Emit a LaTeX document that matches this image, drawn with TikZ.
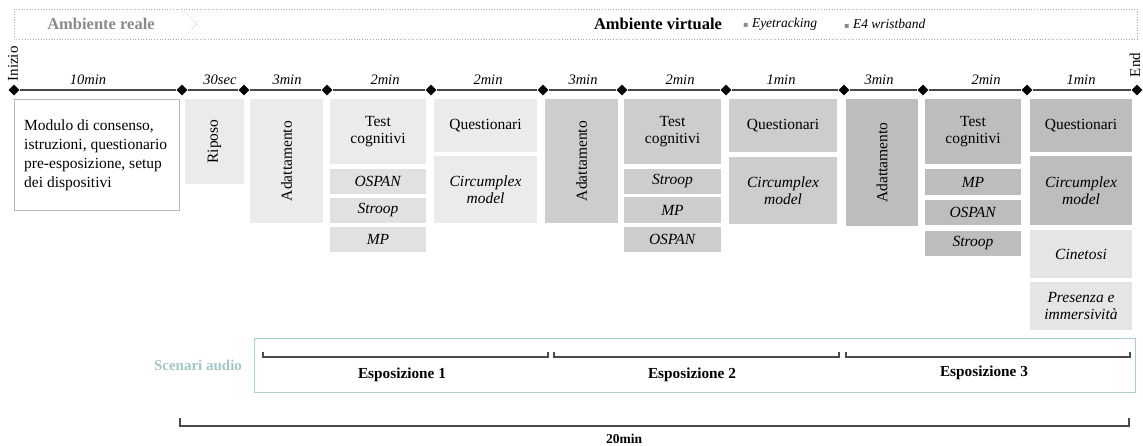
\documentclass[tikz,border=0pt]{standalone}
\usepackage{fontspec}
\usepackage{graphicx}
\setmainfont{Liberation Serif}
\newfontfamily\dejavu{DejaVu Sans}
\usetikzlibrary{shapes.geometric}
\definecolor{sA}{HTML}{EBEBEB}
\definecolor{sAsub}{HTML}{E1E1E1}
\definecolor{sB}{HTML}{CDCDCD}
\definecolor{sC}{HTML}{BDBDBD}
\definecolor{sX}{HTML}{E5E5E5}
\definecolor{audioc}{HTML}{A9CFD0}
\definecolor{audiotxt}{HTML}{A3C6C6}
\definecolor{hdrgray}{HTML}{8A8A8A}
\definecolor{hdrline}{HTML}{B0B0B0}
\definecolor{tline}{HTML}{4A4A4A}
\newcommand\mybox[7]{%
  \node[boxst, fill=#6, minimum width={#4pt-#2pt}, minimum height={#5pt-#3pt}]
    (#1) at ({(#2+#4)/2},{(#3+#5)/2}) {#7};}
\tikzset{
  boxst/.style={rectangle, inner sep=0pt, align=center, font=\fontsize{15.5}{17}\selectfont},
  dur/.style={font=\fontsize{14.5}{16}\selectfont\itshape, inner sep=0pt},
  dia/.style={diamond, fill=black, inner sep=0pt, minimum width=11pt, minimum height=11pt},
  brk/.style={draw=tline, line width=1.3pt},
  hdr/.style={draw=hdrline, dotted, line width=0.7pt},
  expo/.style={font=\fontsize{15.3}{17}\selectfont\bfseries, inner sep=0pt},
}
\begin{document}
\begin{tikzpicture}[x=1pt,y=-1pt]
\useasboundingbox (0,0) rectangle (1143,446);
% header band
\draw[hdr] (14,9) rectangle (1137,39);
\coordinate (chT) at (182,9);
\coordinate (chP) at (197,24);
\coordinate (chB) at (182,39);
\draw[hdr] (chT) -- (chP) -- (chB);
\node[font=\fontsize{16.5}{18}\selectfont\bfseries, text=hdrgray, inner sep=0pt] (amr) at (101,24) {Ambiente reale};
\node[font=\fontsize{16.5}{18}\selectfont\bfseries, inner sep=0pt] (amv) at (658,24) {Ambiente virtuale};
\node[font=\fontsize{13.5}{15}\selectfont\itshape, anchor=west, inner sep=0pt] (eye) at (743,24) {{\dejavu\fontsize{8}{9}\selectfont\textcolor{hdrgray}{▪}} Eyetracking};
\node[font=\fontsize{13.5}{15}\selectfont\itshape, anchor=west, inner sep=0pt] (e4) at (844,24) {{\dejavu\fontsize{8}{9}\selectfont\textcolor{hdrgray}{▪}} E4 wristband};
% timeline
\foreach \i/\x in {0/14,1/182,2/244,3/327,4/431,5/543,6/622,7/726,8/844,9/923,10/1027,11/1137}
  \node[dia] (d\i) at (\x,90) {};
\foreach \a/\b in {0/1,1/2,2/3,3/4,4/5,5/6,6/7,7/8,8/9,9/10,10/11}
  \draw[tline, line width=1.6pt] (d\a) -- (d\b);
\node[rotate=90, font=\fontsize{15}{16}\selectfont, inner sep=0pt] (ini) at (13,64) {Inizio};
\node[rotate=90, font=\fontsize{15}{16}\selectfont, inner sep=0pt] (end) at (1135,65) {End};
\node[dur] (t1) at (88,80) {10min};
\node[dur] (t2) at (220,80) {30sec};
\node[dur] (t3) at (287,80) {3min};
\node[dur] (t4) at (385,80) {2min};
\node[dur] (t5) at (488,80) {2min};
\node[dur] (t6) at (583,80) {3min};
\node[dur] (t7) at (680,80) {2min};
\node[dur] (t8) at (781,80) {1min};
\node[dur] (t9) at (879,80) {3min};
\node[dur] (t10) at (986,80) {2min};
\node[dur] (t11) at (1081,80) {1min};
% boxes
\node[draw=black!28, line width=0.8pt, fill=white, minimum width=165pt, minimum height=111pt, inner sep=0pt] (mod) at (96.5,154.5) {};
\node[align=left, font=\fontsize{15.5}{19}\selectfont, inner sep=0pt, anchor=west] (modt) at (24,155) {Modulo di consenso,\\istruzioni, questionario\\pre-esposizione, setup\\dei dispositivi};
\mybox{rip}{185}{99}{244}{184}{sA}{\rotatebox{90}{Riposo}}
\mybox{ad1}{250}{99}{323}{223}{sA}{\rotatebox{90}{Adattamento}}
\mybox{tc1}{330}{99}{426}{164}{sA}{Test\\cognitivi}
\mybox{os1}{330}{169}{426}{194}{sAsub}{\textit{OSPAN}}
\mybox{st1}{330}{198}{426}{223}{sAsub}{\textit{Stroop}}
\mybox{mp1}{330}{227}{426}{252}{sAsub}{\textit{MP}}
\mybox{q1}{434}{99}{537}{152}{sA}{Questionari}
\mybox{cm1}{434}{156}{537}{223}{sA}{\textit{Circumplex}\\\textit{model}}
\mybox{ad2}{545}{99}{618}{223}{sB}{\rotatebox{90}{Adattamento}}
\mybox{tc2}{624}{99}{721}{164}{sB}{Test\\cognitivi}
\mybox{st2}{624}{169}{721}{194}{sB}{\textit{Stroop}}
\mybox{mp2}{624}{197}{721}{223}{sB}{\textit{MP}}
\mybox{os2}{624}{227}{721}{252}{sB}{\textit{OSPAN}}
\mybox{q2}{729}{99}{837}{152}{sB}{Questionari}
\mybox{cm2}{729}{157}{837}{224}{sB}{\textit{Circumplex}\\\textit{model}}
\mybox{ad3}{846}{99}{918}{226}{sC}{\rotatebox{90}{Adattamento}}
\mybox{tc3}{925}{99}{1021}{164}{sC}{Test\\cognitivi}
\mybox{mp3}{925}{169}{1021}{195}{sC}{\textit{MP}}
\mybox{os3}{925}{200}{1021}{225}{sC}{\textit{OSPAN}}
\mybox{st3}{925}{231}{1021}{256}{sC}{\textit{Stroop}}
\mybox{q3}{1030}{99}{1132}{152}{sC}{Questionari}
\mybox{cm3}{1030}{156}{1132}{225}{sC}{\textit{Circumplex}\\\textit{model}}
\mybox{cin}{1030}{230}{1132}{278}{sX}{\textit{Cinetosi}}
\mybox{pres}{1030}{282}{1132}{330}{sX}{\textit{Presenza e}\\\textit{immersività}}
% audio
\node[draw=audioc, line width=1pt, minimum width=881pt, minimum height=54pt, inner sep=0pt] (audio) at (694.5,365) {};
\node[font=\fontsize{15}{17}\selectfont\bfseries, text=audiotxt, inner sep=0pt] (scen) at (198,365) {Scenari audio};
\coordinate (e1l) at (263,352); \coordinate (e1r) at (548,352);
\coordinate (e2l) at (554,352); \coordinate (e2r) at (839,352);
\coordinate (e3l) at (846,352); \coordinate (e3r) at (1130,352);
\draw[brk] (e1l) -- ++(0,5) -| (e1r);
\draw[brk] (e2l) -- ++(0,5) -| (e2r);
\draw[brk] (e3l) -- ++(0,5) -| (e3r);
\node[expo] (x1) at (402,375) {Esposizione 1};
\node[expo] (x2) at (692,375) {Esposizione 2};
\node[expo] (x3) at (984,373) {Esposizione 3};
\coordinate (tl) at (180,418); \coordinate (tr) at (1129,418);
\draw[brk] (tl) -- ++(0,8) -| (tr);
\node[font=\fontsize{13.5}{15}\selectfont\bfseries, inner sep=0pt] (tot) at (624,439) {20min};
\end{tikzpicture}
\end{document}
